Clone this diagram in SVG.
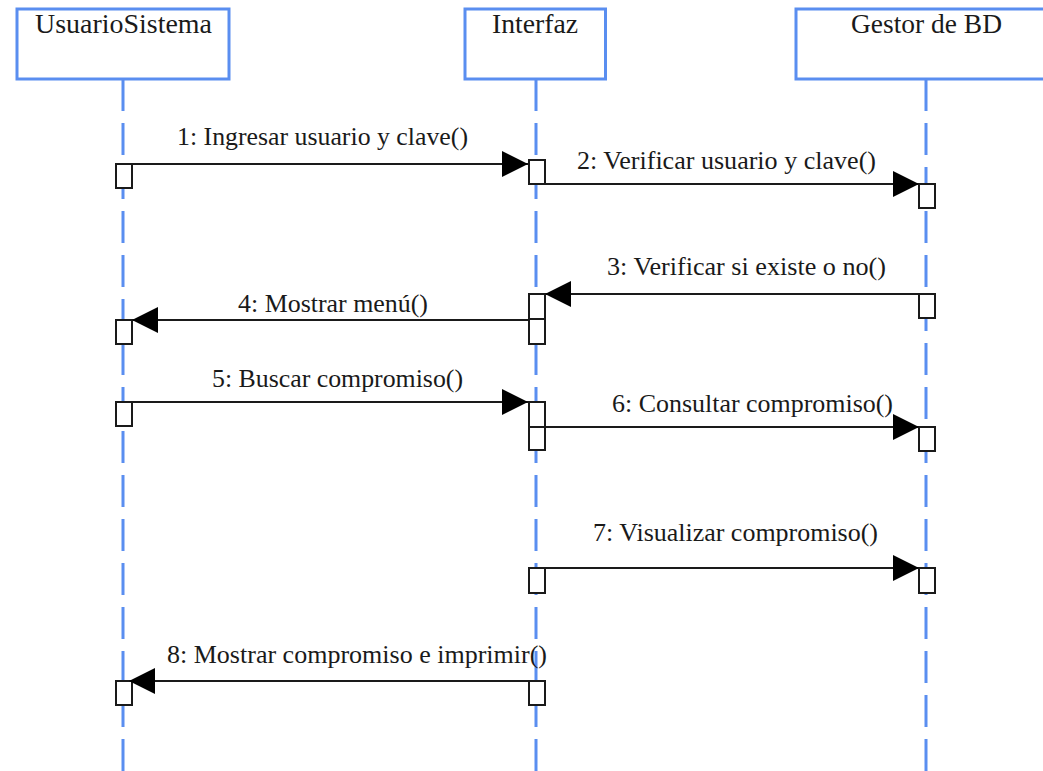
<svg xmlns="http://www.w3.org/2000/svg" width="1043" height="771" viewBox="0 0 1043 771">
  <style>
    .head { fill: #ffffff; stroke: #5a8ef0; stroke-width: 3; }
    .life { stroke: #5a8ef0; stroke-width: 3; stroke-dasharray: 32 12; fill: none; }
    text { font-family: 'Liberation Serif', 'DejaVu Serif', serif; fill: #1a1a1a; }
    .title { font-size: 27px; text-anchor: middle; }
    .label { font-size: 25px; }
    .act { fill: #ffffff; stroke: #1a1a1a; stroke-width: 2; }
    .msg { stroke: #1a1a1a; stroke-width: 2; fill: none; marker-end: url(#arrow); }
  </style>
  <defs>
    <marker id="arrow" markerUnits="userSpaceOnUse" markerWidth="27" markerHeight="26" refX="26" refY="13" orient="auto">
      <path d="M0,0 L26,13 L0,26 Z" fill="#000000"/>
    </marker>
  </defs>
  <rect width="1043" height="771" fill="#ffffff"/>

  <!-- lifelines -->
  <g id="lifelines">
    <line class="life" x1="123" y1="79" x2="123" y2="771"/>
    <line class="life" x1="536" y1="79" x2="536" y2="771"/>
    <line class="life" x1="926" y1="79" x2="926" y2="771"/>
  </g>

  <!-- participants -->
  <g id="usuario-sistema">
    <rect class="head" x="17" y="9" width="212" height="70"/>
    <text class="title" x="123.5" y="33" font-family="Liberation Serif" textLength="177" lengthAdjust="spacingAndGlyphs">UsuarioSistema</text>
  </g>
  <g id="interfaz">
    <rect class="head" x="465" y="9" width="140.5" height="70"/>
    <text class="title" x="535" y="33" font-family="Liberation Serif" textLength="86" lengthAdjust="spacingAndGlyphs">Interfaz</text>
  </g>
  <g id="gestor-bd">
    <rect class="head" x="796" y="9" width="262" height="70"/>
    <text class="title" x="926.5" y="33" font-family="Liberation Serif" textLength="151" lengthAdjust="spacingAndGlyphs">Gestor de BD</text>
  </g>

  <!-- activation boxes -->
  <g id="activations">
    <rect class="act" x="116" y="164" width="16" height="24"/>
    <rect class="act" x="116" y="320" width="16" height="24"/>
    <rect class="act" x="116" y="402" width="16" height="24"/>
    <rect class="act" x="116" y="681" width="16" height="24"/>

    <rect class="act" x="529" y="160" width="16" height="24"/>
    <rect class="act" x="529" y="294" width="16" height="25"/>
    <rect class="act" x="529" y="319" width="16" height="25"/>
    <rect class="act" x="529" y="402" width="16" height="25"/>
    <rect class="act" x="529" y="427" width="16" height="23"/>
    <rect class="act" x="529" y="568" width="16" height="25"/>
    <rect class="act" x="529" y="681" width="16" height="24"/>

    <rect class="act" x="919" y="184" width="16" height="24"/>
    <rect class="act" x="919" y="294" width="16" height="24"/>
    <rect class="act" x="919" y="427" width="16" height="24"/>
    <rect class="act" x="919" y="568" width="16" height="25"/>
  </g>

  <!-- messages -->
  <g id="connectors">
    <line class="msg" x1="132" y1="164" x2="528" y2="164"/>
    <line class="msg" x1="545" y1="184" x2="919" y2="184"/>
    <line class="msg" x1="919" y1="294" x2="545" y2="294"/>
    <line class="msg" x1="529" y1="320" x2="132" y2="320"/>
    <line class="msg" x1="132" y1="402" x2="528" y2="402"/>
    <line class="msg" x1="545" y1="427" x2="919" y2="427"/>
    <line class="msg" x1="545" y1="568" x2="919" y2="568"/>
    <line class="msg" x1="529" y1="681" x2="129" y2="681"/>
  </g>

  <g id="message-labels" font-family="Liberation Serif">
    <text class="label" x="177" y="145" textLength="291" lengthAdjust="spacingAndGlyphs">1: Ingresar usuario y clave()</text>
    <text class="label" x="577" y="169" textLength="299" lengthAdjust="spacingAndGlyphs">2: Verificar usuario y clave()</text>
    <text class="label" x="607" y="275" textLength="279" lengthAdjust="spacingAndGlyphs">3: Verificar si existe o no()</text>
    <text class="label" x="238" y="312" textLength="190" lengthAdjust="spacingAndGlyphs">4: Mostrar menú()</text>
    <text class="label" x="212" y="387" textLength="251" lengthAdjust="spacingAndGlyphs">5: Buscar compromiso()</text>
    <text class="label" x="612" y="412" textLength="281" lengthAdjust="spacingAndGlyphs">6: Consultar compromiso()</text>
    <text class="label" x="593" y="541" textLength="285" lengthAdjust="spacingAndGlyphs">7: Visualizar compromiso()</text>
    <text class="label" x="167" y="663" textLength="380" lengthAdjust="spacingAndGlyphs">8: Mostrar compromiso e imprimir()</text>
  </g>
</svg>
